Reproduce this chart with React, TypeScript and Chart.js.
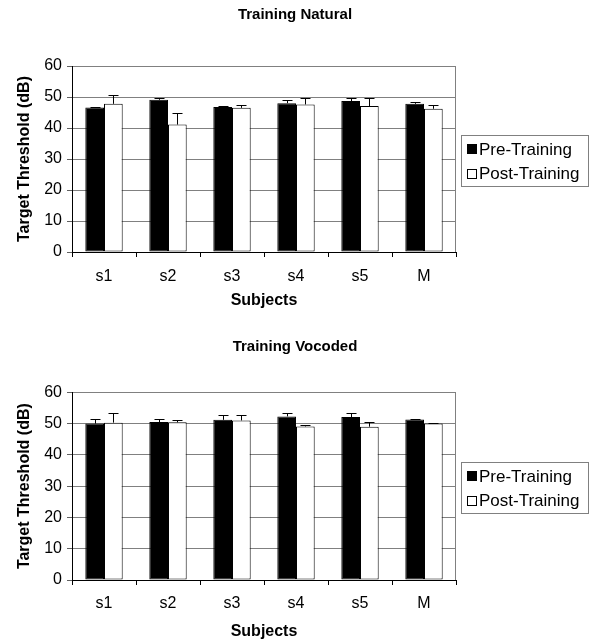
import React, { useEffect, useRef } from 'react';
import { Chart, registerables } from 'chart.js';

Chart.register(...registerables);

const categories = ['s1', 's2', 's3', 's4', 's5', 'M'];
const seriesLabels = ['Pre-Training', 'Post-Training'];
const yMin = 0;
const yMax = 60;
const yStep = 10;

const naturalTitle = 'Training Natural';
const naturalPre = [46.6, 49.1, 46.8, 48.0, 48.7, 47.8];
const naturalPreErr = [0.3, 0.5, 0.2, 0.9, 1.0, 0.5];
const naturalPost = [47.8, 41.1, 46.5, 47.6, 47.1, 46.2];
const naturalPostErr = [2.8, 3.6, 0.8, 2.0, 2.6, 1.1];

const vocodedTitle = 'Training Vocoded';
const vocodedPre = [50.0, 50.5, 51.2, 52.3, 52.1, 51.3];
const vocodedPreErr = [1.6, 0.9, 1.7, 1.0, 1.4, 0.3];
const vocodedPost = [50.3, 50.4, 51.0, 49.1, 49.0, 50.0];
const vocodedPostErr = [3.0, 0.7, 1.6, 0.6, 1.6, 0.3];

const xTitle = 'Subjects';
const yTitle = 'Target Threshold (dB)';

const FONT = "'Liberation Sans', Arial, Helvetica, sans-serif";
const W = 590;
const H = 322;

type Layout = {
  titleY: number;
  plotTop: number;
  xScaleHeight: number;
  xTickPad: number;
  xTitlePadBottom: number;
  legendOffset: number;
};

const errorBarPlugin = {
  id: 'errorBars',
  afterDatasetsDraw(chart: any) {
    const ctx = chart.ctx;
    const yScale = chart.scales.y;
    ctx.save();
    ctx.strokeStyle = '#000';
    ctx.lineWidth = 1;
    chart.data.datasets.forEach((ds: any, i: number) => {
      const meta = chart.getDatasetMeta(i);
      meta.data.forEach((bar: any, j: number) => {
        const v = ds.data[j];
        const e = ds.errors[j];
        const x = Math.round(bar.x) + 0.5;
        const y0 = yScale.getPixelForValue(v);
        const y1 = Math.round(yScale.getPixelForValue(v + e)) + 0.5;
        ctx.beginPath();
        ctx.moveTo(x, y0);
        ctx.lineTo(x, y1);
        ctx.moveTo(x - 5, y1);
        ctx.lineTo(x + 5, y1);
        ctx.stroke();
      });
    });
    ctx.restore();
  },
};

const frameAndLegendPlugin = {
  id: 'frameAndLegend',
  beforeDatasetsDraw(chart: any) {
    const { ctx, chartArea } = chart;
    ctx.save();
    ctx.strokeStyle = '#808080';
    ctx.lineWidth = 1;
    const x = Math.round(chartArea.right) - 0.5;
    ctx.beginPath();
    ctx.moveTo(x, chartArea.top);
    ctx.lineTo(x, chartArea.bottom);
    ctx.stroke();
    ctx.restore();
  },
  afterDraw(chart: any) {
    const { ctx, chartArea } = chart;
    const opts = chart.options.plugins.frameAndLegend;
    // chart title, centred on the full figure width
    ctx.save();
    ctx.font = `bold 15px ${FONT}`;
    ctx.fillStyle = '#000';
    ctx.textAlign = 'center';
    ctx.textBaseline = 'middle';
    ctx.fillText(opts.title, W / 2, opts.titleY);
    ctx.restore();

    // legend
    const off = opts.offset || 0;
    const bx = 461.5;
    const bw = 127;
    const bh = 51;
    const cy = (chartArea.top + chartArea.bottom) / 2 + off;
    const by = Math.round(cy - bh / 2) + 0.5;
    ctx.save();
    ctx.strokeStyle = '#808080';
    ctx.lineWidth = 1;
    ctx.strokeRect(bx, by, bw, bh);
    ctx.font = `17px ${FONT}`;
    ctx.textBaseline = 'middle';
    ctx.textAlign = 'left';
    const fills = ['#000', '#fff'];
    seriesLabels.forEach((lab, i) => {
      const iy = by + 13.5 + i * 24.5;
      ctx.fillStyle = fills[i];
      ctx.fillRect(467, Math.round(iy - 5), 10, 10);
      ctx.strokeStyle = '#000';
      ctx.strokeRect(467.5, Math.round(iy - 5) + 0.5, 9, 9);
      ctx.fillStyle = '#000';
      ctx.fillText(lab, 479, iy + 1);
    });
    ctx.restore();
  },
};

function makeConfig(
  title: string,
  pre: number[],
  preErr: number[],
  post: number[],
  postErr: number[],
  L: Layout
): any {
  return {
    type: 'bar',
    data: {
      labels: categories,
      datasets: [
        {
          label: seriesLabels[0],
          data: pre,
          errors: preErr,
          backgroundColor: '#000',
          borderColor: '#000',
          borderWidth: 1,
          borderSkipped: false,
          categoryPercentage: 0.584,
          barPercentage: 1.0,
        },
        {
          label: seriesLabels[1],
          data: post,
          errors: postErr,
          backgroundColor: '#fff',
          borderColor: '#000',
          borderWidth: 1,
          borderSkipped: false,
          categoryPercentage: 0.584,
          barPercentage: 1.0,
        },
      ],
    },
    options: {
      responsive: false,
      animation: false,
      layout: { padding: { left: 0, right: W - 456, top: L.plotTop, bottom: 0 } },
      plugins: {
        legend: { display: false },
        tooltip: { enabled: false },
        title: { display: false },
        frameAndLegend: { offset: L.legendOffset, title, titleY: L.titleY },
      },
      scales: {
        x: {
          afterFit: (s: any) => {
            s.height = L.xScaleHeight;
          },
          grid: {
            offset: true,
            drawOnChartArea: false,
            drawTicks: true,
            tickLength: 5,
            color: '#000',
            tickColor: '#000',
          },
          border: { display: true, color: '#000', width: 1 },
          ticks: {
            color: '#000',
            padding: L.xTickPad,
            font: { family: FONT, size: 16 },
          },
          title: {
            display: true,
            text: xTitle,
            color: '#000',
            font: { family: FONT, size: 16, weight: 'bold' },
            padding: { top: 0, bottom: L.xTitlePadBottom },
          },
        },
        y: {
          min: yMin,
          max: yMax,
          afterFit: (s: any) => {
            s.width = 72;
          },
          grid: {
            color: '#808080',
            tickColor: '#606060',
            drawTicks: true,
            tickLength: 5,
          },
          border: { display: true, color: '#000', width: 1 },
          ticks: {
            stepSize: yStep,
            color: '#000',
            padding: 5,
            font: { family: FONT, size: 16 },
          },
          title: {
            display: true,
            text: yTitle,
            color: '#000',
            font: { family: FONT, size: 16, weight: 'bold' },
            padding: { top: 15, bottom: 0 },
          },
        },
      },
    },
    plugins: [errorBarPlugin, frameAndLegendPlugin],
  };
}

function BarChart(props: {
  title: string;
  pre: number[];
  preErr: number[];
  post: number[];
  postErr: number[];
  layout: Layout;
  top: number;
}) {
  const ref = useRef<HTMLCanvasElement | null>(null);
  useEffect(() => {
    if (!ref.current) return;
    const chart = new Chart(
      ref.current,
      makeConfig(props.title, props.pre, props.preErr, props.post, props.postErr, props.layout)
    );
    return () => chart.destroy();
  }, []);
  return (
    <canvas
      ref={ref}
      width={W}
      height={H}
      style={{ position: 'absolute', left: 0, top: props.top, width: W, height: H }}
    />
  );
}

export default function App() {
  return (
    <div style={{ position: 'absolute', left: 0, top: 0, width: W, height: 644, background: '#fff' }}>
      <BarChart
        title={naturalTitle}
        pre={naturalPre}
        preErr={naturalPreErr}
        post={naturalPost}
        postErr={naturalPostErr}
        top={0}
        layout={{
          titleY: 15,
          plotTop: 66,
          xScaleHeight: 70,
          xTickPad: 10,
          xTitlePadBottom: 12,
          legendOffset: 1.5,
        }}
      />
      <BarChart
        title={vocodedTitle}
        pre={vocodedPre}
        preErr={vocodedPreErr}
        post={vocodedPost}
        postErr={vocodedPostErr}
        top={322}
        layout={{
          titleY: 25,
          plotTop: 70.3,
          xScaleHeight: 64,
          xTickPad: 9,
          xTitlePadBottom: 3,
          legendOffset: 1.5,
        }}
      />
    </div>
  );
}
